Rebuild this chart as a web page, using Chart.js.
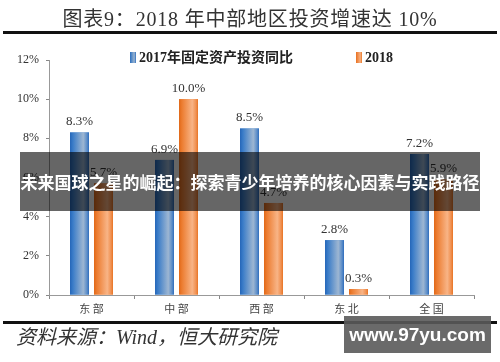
<!DOCTYPE html>
<html><head><meta charset="utf-8">
<script src="https://cdn.jsdelivr.net/npm/chart.js@4"></script>
<style>
html,body{margin:0;padding:0;background:#fff;}
#wrap{position:relative;width:500px;height:362px;overflow:hidden;font-family:"Liberation Serif","Noto Sans CJK SC",serif;}
#c{position:absolute;left:0;top:0;}
.abs{position:absolute;}
#title{left:0;width:500px;top:3px;text-align:center;font-size:20px;color:#333;font-family:"Liberation Serif","Noto Sans CJK SC",serif;letter-spacing:0.8px;}
#line1{left:3px;width:494px;top:31px;height:3px;background:#111;}
#line2{left:3px;width:494px;top:321px;height:3px;background:#111;}
#src{left:16px;top:321px;font-size:20px;color:#333;font-style:italic;font-family:"Liberation Serif","Noto Sans CJK SC",serif;}
#legend{top:46px;left:130px;font-size:14px;font-weight:bold;color:#222;white-space:nowrap;}
.lb{display:inline-block;width:6px;height:11px;vertical-align:-1px;margin-right:3px;}
#banner{left:20px;top:152px;width:460px;height:59px;background:rgba(0,0,0,0.6);color:#fff;font-family:"Noto Sans CJK SC",sans-serif;font-weight:bold;font-size:17px;line-height:59px;text-align:center;white-space:nowrap;}
#wm{left:344px;top:316px;width:147px;height:37px;background:rgba(90,90,90,0.9);color:#fff;font-family:"Liberation Sans","DejaVu Sans",sans-serif;font-weight:bold;font-size:19px;line-height:37px;text-align:center;}
</style></head>
<body>
<div id="wrap">
<canvas id="c" width="500" height="362"></canvas>
<div id="title" class="abs">图表9：2018 年中部地区投资增速达 10%</div>
<div id="line1" class="abs"></div>
<div id="legend" class="abs"><span class="lb" style="background:linear-gradient(90deg,#2a6fc0,#9ab4d0 70%,#3070c0)"></span>2017年固定资产投资同比<span style="display:inline-block;width:63px"></span><span class="lb" style="background:linear-gradient(90deg,#e87020,#f8b080 70%,#e87828)"></span>2018</div>
<div id="line2" class="abs"></div>
<div id="src" class="abs">资料来源：Wind，恒大研究院</div>
<div id="banner" class="abs">未来国球之星的崛起：探索青少年培养的核心因素与实践路径</div>
<div id="wm" class="abs">www.97yu.com</div>
</div>
<script>
const categories = ["东 部","中 部","西 部","东 北","全 国"];
const series2017 = [8.3, 6.9, 8.5, 2.8, 7.2];
const series2018 = [5.7, 10.0, 4.7, 0.3, 5.9];
const yTicks = [0, 2, 4, 6, 8, 10, 12];

const gradStops = [
  [[0,'#2566b8'],[0.15,'#3a7cc8'],[0.7,'#9db6d2'],[0.9,'#5a8cc8'],[1,'#2e6cbc']],
  [[0,'#e06818'],[0.15,'#ec7c30'],[0.7,'#f8b486'],[0.9,'#f09050'],[1,'#e87424']]
];

const gradPlugin = {
  id:'grad',
  afterDatasetsDraw(chart){
    const ctx = chart.ctx;
    chart.data.datasets.forEach((ds, di) => {
      const meta = chart.getDatasetMeta(di);
      meta.data.forEach((el, i) => {
        const p = el.getProps(['x','y','base','width'], true);
        const l = p.x - p.width/2;
        const g = ctx.createLinearGradient(l, 0, l + p.width, 0);
        gradStops[di].forEach(s => g.addColorStop(s[0], s[1]));
        ctx.save();
        ctx.fillStyle = g;
        ctx.fillRect(l, p.y, p.width, p.base - p.y);
        ctx.restore();
        const v = ds.data[i];
        ctx.save();
        ctx.fillStyle = '#333';
        ctx.font = '13px "Liberation Serif", serif';
        ctx.textAlign = 'center';
        ctx.textBaseline = 'bottom';
        ctx.fillText(v.toFixed(1) + '%', p.x, p.y - 4);
        ctx.restore();
      });
    });
  }
};

new Chart(document.getElementById('c'), {
  type: 'bar',
  data: {
    labels: categories,
    datasets: [
      {label:'2017年固定资产投资同比', data: series2017, backgroundColor:'#3a7cc8', categoryPercentage:0.565, barPercentage:0.79},
      {label:'2018', data: series2018, backgroundColor:'#ec7c30', categoryPercentage:0.565, barPercentage:0.79}
    ]
  },
  options: {
    responsive:false,
    animation:false,
    layout:{padding:{left:0, right:26, top:60, bottom:45}},
    plugins:{legend:{display:false}, tooltip:{enabled:false}},
    scales:{
      x:{
        afterFit: s => { s.height = 22; },
        grid:{display:true, drawOnChartArea:false, tickLength:4, color:'#888', offset:true},
        border:{color:'#999', width:1},
        ticks:{color:'#444', font:{size:11, family:'"Noto Sans CJK SC", serif'}, padding:3}
      },
      y:{
        min:0, max:12,
        afterFit: s => { s.width = 49; },
        afterBuildTicks: s => { s.ticks = yTicks.map(v => ({value:v})); },
        grid:{display:true, drawOnChartArea:false, tickLength:3, color:'#888'},
        border:{color:'#999', width:1},
        ticks:{color:'#333', font:{size:12, family:'"Liberation Serif", serif'}, padding:7, callback: v => v + '%'}
      }
    }
  },
  plugins:[gradPlugin]
});
</script>
</body></html>
